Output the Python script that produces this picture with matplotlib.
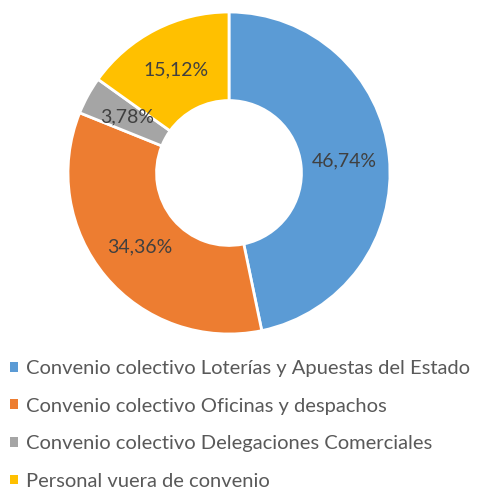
import matplotlib
matplotlib.use('Agg')
import matplotlib.pyplot as plt
from matplotlib.patches import Patch
import numpy as np

labels = ["Convenio colectivo Loterías y Apuestas del Estado",
          "Convenio colectivo Oficinas y despachos",
          "Convenio colectivo Delegaciones Comerciales",
          "Personal vuera de convenio"]
values = [46.74, 34.36, 3.78, 15.12]
colors = ["#5B9BD5", "#ED7D31", "#A5A5A5", "#FFC000"]

plt.rcParams['font.family'] = ['Lato', 'DejaVu Sans']

W, H = 483, 491
fig = plt.figure(figsize=(W / 100, H / 100), dpi=100)
cx, cy, r = 229, 173, 161
ax = fig.add_axes([(cx - r) / W, 1 - (cy + r) / H, 2 * r / W, 2 * r / H])

wedges, _ = ax.pie(values, colors=colors, startangle=90, counterclock=False,
                   radius=1, wedgeprops=dict(width=0.55, edgecolor='white', linewidth=2))

total = sum(values)
ang = 90.0
for v in values:
    mid = ang - v / total * 180
    ang -= v / total * 360
    x = 0.72 * np.cos(np.radians(mid))
    y = 0.72 * np.sin(np.radians(mid))
    ax.text(x, y, ("%.2f%%" % v).replace('.', ','), ha='center', va='center',
            fontsize=14, color='#404040')
ax.set_xlim(-1, 1)
ax.set_ylim(-1, 1)
ax.set_aspect('equal')
ax.axis('off')

handles = [Patch(facecolor=c, edgecolor='none') for c in colors]
fig.legend(handles, labels, loc='upper left', bbox_to_anchor=(-0.012, 1 - 344 / H),
           frameon=False, fontsize=14.5, labelcolor='#595959',
           handlelength=0.38, handleheight=0.38, handletextpad=0.4,
           labelspacing=1.02, borderaxespad=0.4)

fig.savefig("out.png", dpi=100)
